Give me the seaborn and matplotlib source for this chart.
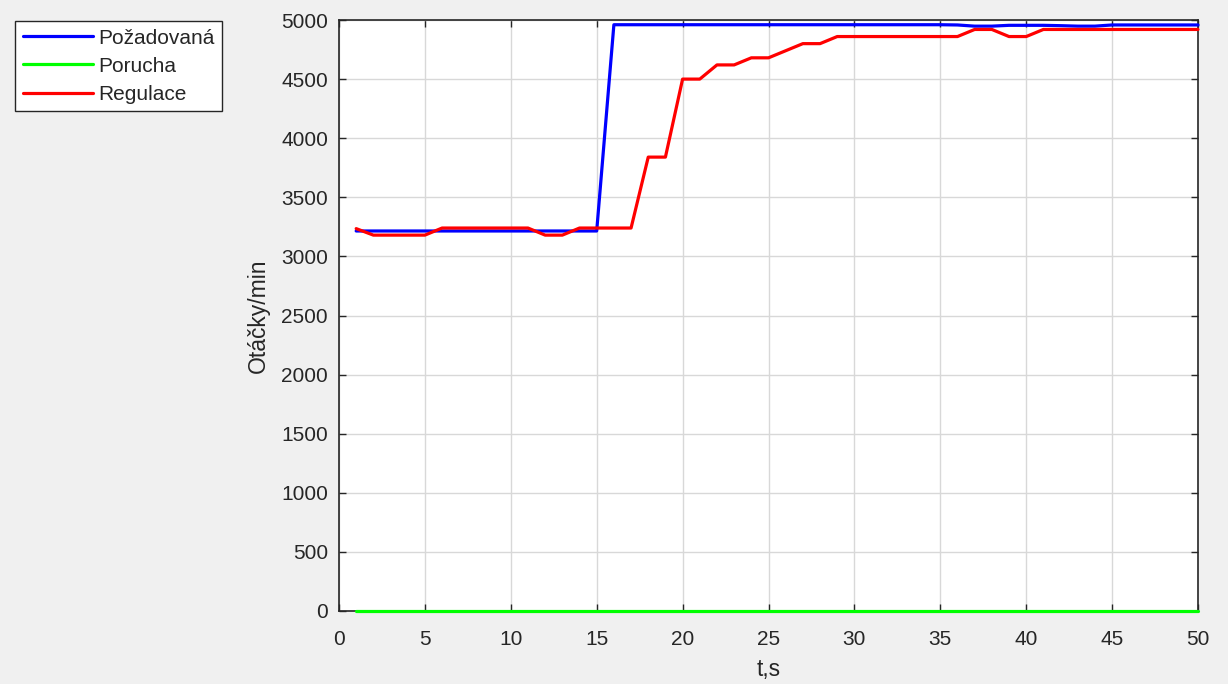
import numpy as np
import pandas as pd
import matplotlib
matplotlib.use("Agg")
import matplotlib.pyplot as plt
import seaborn as sns

# Time samples (s)
t = list(range(1, 51))

# Setpoint speed (rpm)
pozadovana = [3215] * 15 + [4960] * 20 + [4958, 4948, 4948, 4955, 4955, 4955, 4952, 4948, 4948,
                                          4958, 4958, 4958, 4958, 4958, 4958]
# Disturbance
porucha = [0] * 50
# Controlled speed (rpm)
regulace = ([3235, 3180, 3180, 3180, 3180, 3240, 3240, 3240, 3240, 3240, 3240, 3180, 3180,
             3240, 3240, 3240, 3240, 3840, 3840, 4500, 4500, 4620, 4620, 4680, 4680, 4740,
             4800, 4800] + [4860] * 8 + [4920, 4920, 4860, 4860] + [4920] * 10)

series_names = ["Požadovaná", "Porucha", "Regulace"]
series_colors = ["#0000ff", "#00ff00", "#ff0000"]

df = pd.DataFrame({
    "t": t * 3,
    "value": pozadovana + porucha + regulace,
    "series": [series_names[0]] * 50 + [series_names[1]] * 50 + [series_names[2]] * 50,
})

sns.set_style("whitegrid")
plt.rcParams["font.family"] = ["Liberation Sans", "DejaVu Sans"]

fig = plt.figure(figsize=(12.28, 6.84), dpi=100, facecolor="#f0f0f0")
ax = fig.add_axes([339 / 1228, 1 - 611 / 684, (1198 - 339) / 1228, (611 - 20) / 684])
ax.set_facecolor("white")

sns.lineplot(data=df, x="t", y="value", hue="series", hue_order=series_names,
             palette=dict(zip(series_names, series_colors)), linewidth=2.3,
             legend=False, ax=ax, estimator=None, sort=False)
for ln in ax.get_lines():
    ln.set_clip_on(False)
    ln.set_zorder(5)

ax.set_xlim(0, 50)
ax.set_ylim(0, 5000)
ax.set_xticks(np.arange(0, 51, 5))
ax.set_yticks(np.arange(0, 5001, 500))

text_col = "#262626"
ax.grid(True, color="#d8d8d8", linewidth=1.0)
for s in ax.spines.values():
    s.set_visible(True)
    s.set_color(text_col)
    s.set_linewidth(1.2)
ax.tick_params(direction="in", length=5, width=1, colors=text_col, labelsize=15,
               top=True, right=True, left=True, bottom=True)
ax.tick_params(axis="y", pad=8)
ax.tick_params(axis="x", pad=14)
ax.set_xlabel("t,s", fontsize=16.5, color=text_col, labelpad=6)
ax.set_ylabel("Otáčky/min", fontsize=16.5, color=text_col, labelpad=8)

handles = [plt.Line2D([], [], color=c, linewidth=2.3) for c in series_colors]
leg = fig.legend(handles, series_names, loc="upper left",
                 bbox_to_anchor=(15 / 1228, 1 - 21 / 684), fontsize=15,
                 frameon=True, fancybox=False, shadow=False, framealpha=1,
                 handlelength=3.4, handletextpad=0.25, borderpad=0.36,
                 labelspacing=0.44, borderaxespad=0)
leg.get_frame().set_edgecolor(text_col)
leg.get_frame().set_linewidth(1.0)
for txt in leg.get_texts():
    txt.set_color(text_col)

fig.savefig("out.png", dpi=100, facecolor=fig.get_facecolor())
